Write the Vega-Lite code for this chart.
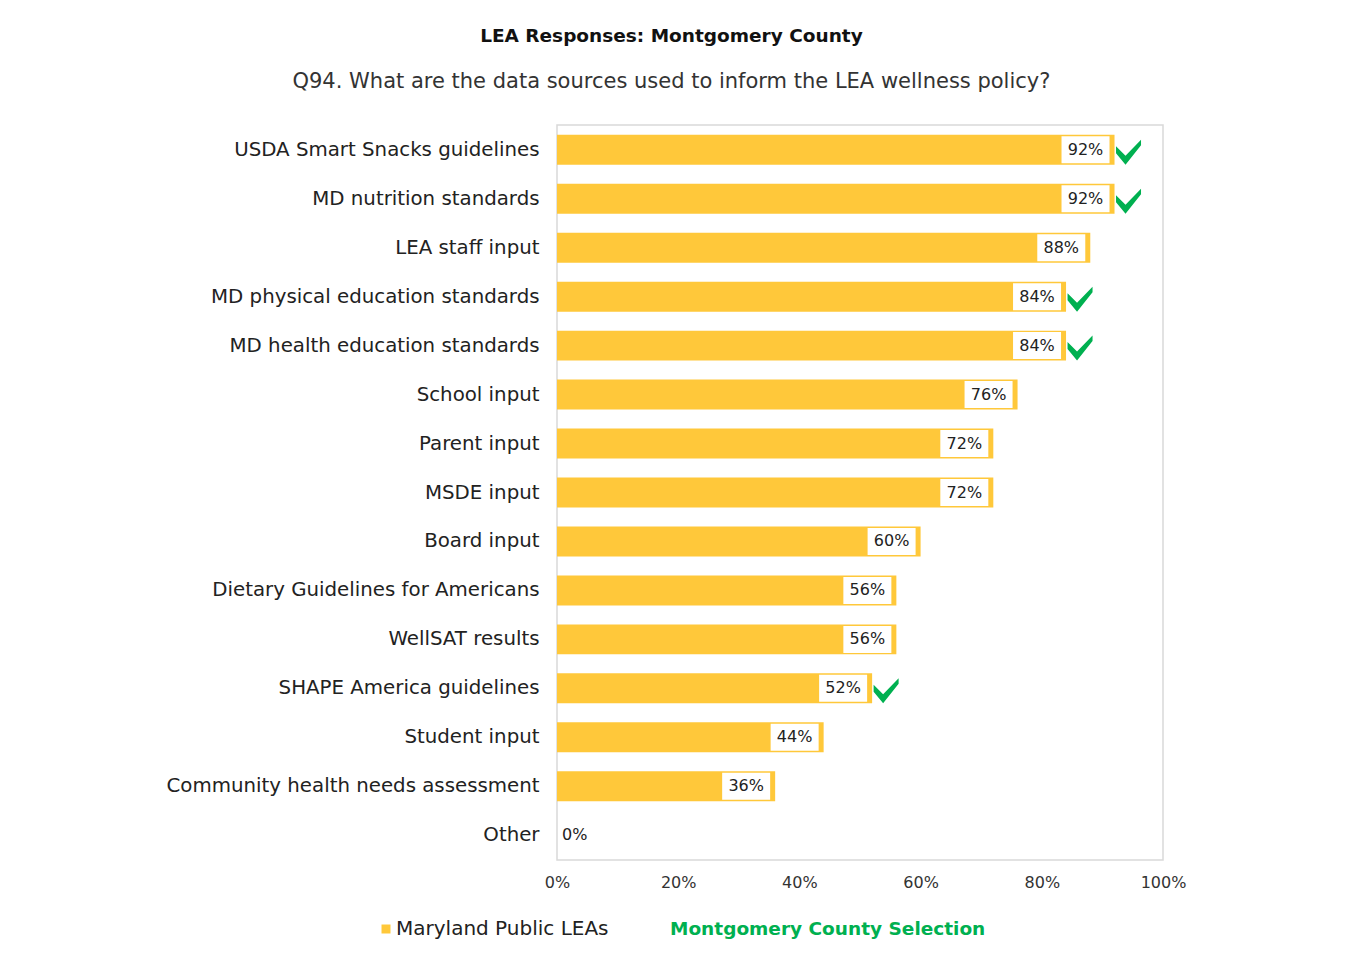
{
  "$schema": "https://vega.github.io/schema/vega-lite/v6.json",
  "width": 606,
  "height": 735,
  "padding": {"left": 157, "top": 26, "right": 10, "bottom": 10},
  "background": "white",
  "title": {
    "text": "LEA Responses: Montgomery County",
    "subtitle": "Q94. What are the data sources used to inform the LEA wellness policy?",
    "anchor": "middle",
    "frame": "bounds",
    "font": "DejaVu Sans",
    "fontSize": 18.5,
    "fontWeight": "bold",
    "color": "#111111",
    "subtitleFont": "DejaVu Sans",
    "subtitleFontSize": 21,
    "subtitleColor": "#333333",
    "subtitlePadding": 26,
    "offset": 33
  },
  "data": {
    "values": [
      {"source": "USDA Smart Snacks guidelines", "pct": 0.92, "selected": true},
      {"source": "MD nutrition standards", "pct": 0.92, "selected": true},
      {"source": "LEA staff input", "pct": 0.88, "selected": false},
      {"source": "MD physical education standards", "pct": 0.84, "selected": true},
      {"source": "MD health education standards", "pct": 0.84, "selected": true},
      {"source": "School input", "pct": 0.76, "selected": false},
      {"source": "Parent input", "pct": 0.72, "selected": false},
      {"source": "MSDE input", "pct": 0.72, "selected": false},
      {"source": "Board input", "pct": 0.60, "selected": false},
      {"source": "Dietary Guidelines for Americans", "pct": 0.56, "selected": false},
      {"source": "WellSAT results", "pct": 0.56, "selected": false},
      {"source": "SHAPE America guidelines", "pct": 0.52, "selected": true},
      {"source": "Student input", "pct": 0.44, "selected": false},
      {"source": "Community health needs assessment", "pct": 0.36, "selected": false},
      {"source": "Other", "pct": 0.0, "selected": false}
    ]
  },
  "encoding": {
    "y": {
      "field": "source",
      "type": "nominal",
      "sort": null,
      "scale": {"paddingInner": 0.388, "paddingOuter": 0.2},
      "axis": {
        "title": null,
        "ticks": false,
        "domain": false,
        "labelFont": "DejaVu Sans",
        "labelFontSize": 19.8,
        "labelColor": "#222222",
        "labelPadding": 18,
        "labelLimit": 500,
        "minExtent": 400,
        "maxExtent": 400
      }
    },
    "x": {
      "field": "pct",
      "type": "quantitative",
      "scale": {"domain": [0, 1], "nice": false},
      "axis": {
        "title": null,
        "values": [0, 0.2, 0.4, 0.6, 0.8, 1],
        "format": ".0%",
        "grid": false,
        "ticks": false,
        "domain": false,
        "labelFlush": false,
        "labelFont": "DejaVu Sans",
        "labelFontSize": 16,
        "labelColor": "#333333",
        "labelPadding": 14
      }
    }
  },
  "layer": [
    {
      "mark": {"type": "bar"},
      "encoding": {
        "color": {
          "datum": "Maryland Public LEAs",
          "type": "nominal",
          "scale": {
            "domain": ["Maryland Public LEAs", "Montgomery County Selection"],
            "range": ["#FFC83A", "#00B050"]
          },
          "legend": {
            "title": null,
            "orient": "none",
            "legendX": -181,
            "legendY": 794,
            "direction": "horizontal",
            "symbolType": "square",
            "symbolSize": 81,
            "labelFont": "DejaVu Sans",
            "labelFontSize": 20,
            "labelColor": "#222222",
            "labelLimit": 500,
            "labelOffset": 0,
            "columnPadding": 41,
            "encode": {
              "labels": {
                "update": {
                  "fill": {"signal": "datum.value == 'Montgomery County Selection' ? '#00B050' : '#222222'"},
                  "fontWeight": {"signal": "datum.value == 'Montgomery County Selection' ? 'bold' : 'normal'"},
                  "fontSize": {"signal": "datum.value == 'Montgomery County Selection' ? 18.5 : 20"}
                }
              },
              "symbols": {
                "update": {
                  "opacity": {"signal": "datum.value == 'Montgomery County Selection' ? 0 : 1"}
                }
              }
            }
          }
        }
      }
    },
    {
      "transform": [{"filter": "datum.pct > 0"}],
      "mark": {
        "type": "point",
        "shape": "M-53,-13.5H-5V13.5H-53Z",
        "size": 4,
        "filled": true,
        "fill": "white",
        "opacity": 1,
        "strokeWidth": 0
      }
    },
    {
      "transform": [{"filter": "datum.pct > 0"}],
      "mark": {
        "type": "text",
        "dx": -29,
        "align": "center",
        "baseline": "middle",
        "font": "DejaVu Sans",
        "fontSize": 16,
        "color": "#222222"
      },
      "encoding": {"text": {"field": "pct", "format": ".0%"}}
    },
    {
      "transform": [{"filter": "datum.pct == 0"}],
      "mark": {
        "type": "text",
        "dx": 5,
        "align": "left",
        "baseline": "middle",
        "font": "DejaVu Sans",
        "fontSize": 16,
        "color": "#222222"
      },
      "encoding": {"text": {"field": "pct", "format": ".0%"}}
    },
    {
      "transform": [{"filter": "datum.selected"}],
      "mark": {
        "type": "point",
        "shape": "M1.5,-3.5L11,6L26.5,-10L26.5,-4.5L11,15L1.5,3.5Z",
        "size": 4,
        "filled": true,
        "opacity": 1,
        "strokeWidth": 0
      },
      "encoding": {
        "color": {"datum": "Montgomery County Selection", "type": "nominal"}
      }
    }
  ],
  "config": {
    "view": {"stroke": "#d9d9d9", "strokeWidth": 1.5}
  }
}
